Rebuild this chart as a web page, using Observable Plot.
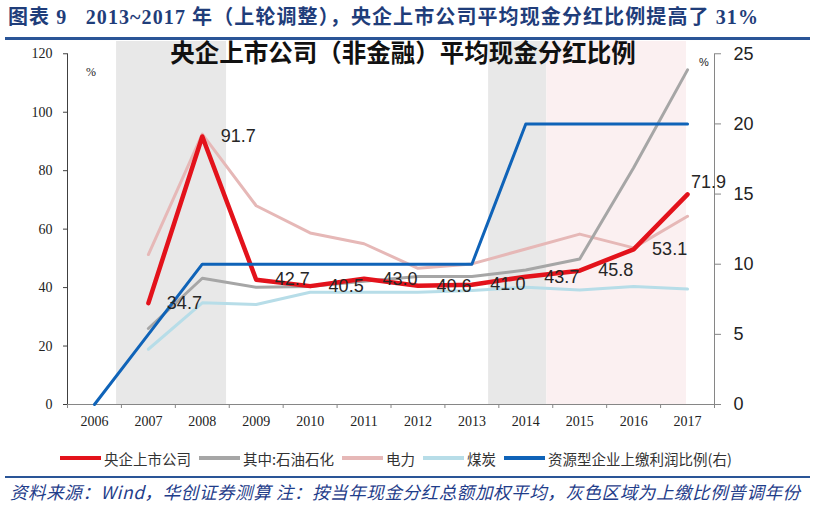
<!DOCTYPE html>
<html><head><meta charset="utf-8">
<script src="https://cdn.jsdelivr.net/npm/d3@7"></script>
<script src="https://cdn.jsdelivr.net/npm/@observablehq/plot@0.6"></script>
<style>
body{margin:0;background:#fff;width:814px;height:508px;position:relative;overflow:hidden;font-family:"Noto Sans CJK SC",sans-serif}
#hdr{position:absolute;left:8px;top:7px;line-height:20px;font-weight:bold;font-size:20px;font-family:"Liberation Serif","Noto Sans CJK SC";color:#1f3d7a;white-space:nowrap;letter-spacing:1.1px}
.rule{position:absolute;left:5px;width:805px;background:#2a5597}
#chart{position:absolute;left:0;top:41px}
#ititle{position:absolute;left:0;width:806px;text-align:center;top:40px;line-height:24px;font-weight:bold;font-size:24.5px;font-family:"Noto Sans CJK SC";color:#111;white-space:nowrap}
.pct{position:absolute;font-size:12px;color:#222}
#legend{position:absolute;left:60px;top:448px;height:20px;display:flex;align-items:center;font-size:14.5px;color:#333;white-space:nowrap}
#legend .it{display:flex;align-items:center;margin-right:8px}
#legend .sw{width:41px;height:4px;margin-right:3px}
#foot{position:absolute;left:10px;top:482px;line-height:20px;font-style:italic;font-size:17.5px;letter-spacing:0.6px;font-family:"Noto Sans CJK SC";color:#1f3d8a;white-space:nowrap}
</style></head>
<body>
<div id="hdr">图表 9&nbsp;&nbsp;&nbsp;2013~2017 年（上轮调整），央企上市公司平均现金分红比例提高了 31%</div>
<div class="rule" style="top:37px;height:3px"></div>
<div id="chart"></div>
<div id="ititle">央企上市公司（非金融）平均现金分红比例</div>
<div class="pct" style="left:86px;top:65px;font-family:'Liberation Serif'">%</div>
<div class="pct" style="left:699px;top:56px;font-family:'Liberation Sans';font-size:11px">%</div>
<div id="legend"></div>
<div class="rule" style="top:476px;height:2px"></div>
<div id="foot">资料来源：Wind，华创证券测算 注：按当年现金分红总额加权平均，灰色区域为上缴比例普调年份</div>
<script>
// ---- data ----
const years = [2006, 2007, 2008, 2009, 2010, 2011, 2012, 2013, 2014, 2015, 2016, 2017];
const centralSOE = [null, 34.7, 91.7, 42.7, 40.5, 43.0, 40.6, 41.0, 43.7, 45.8, 53.1, 71.9]; // 央企上市公司
const petro      = [null, 26.0, 43.2, 40.1, 40.4, 42.2, 43.8, 43.8, 46.0, 49.8, 81.0, 114.5]; // 其中:石油石化
const power      = [null, 51.3, 92.5, 68.0, 58.7, 55.0, 46.6, 48.1, 53.2, 58.3, 53.6, 64.4]; // 电力
const coal       = [null, 18.9, 34.8, 34.2, 38.4, 38.4, 38.4, 39.0, 40.1, 39.2, 40.4, 39.5]; // 煤炭
const profitRate = [0, 5, 10, 10, 10, 10, 10, 10, 20, 20, 20, 20]; // 资源型企业上缴利润比例(右)
const leftTicks = [0, 20, 40, 60, 80, 100, 120];
const rightTicks = [0, 5, 10, 15, 20, 25];
const seriesNames = ["央企上市公司", "其中:石油石化", "电力", "煤炭", "资源型企业上缴利润比例(右)"];
const seriesColors = ["#e3121b", "#a6a6a6", "#e6b8b7", "#b7dde8", "#0f63b8"];
const shadeFrom = [2006.41, 2013.31, 2014.39];
const shadeTo   = [2008.45, 2014.39, 2016.98];
const shadeFill = ["#e8e8e8", "#e8e8e8", "#fbf0f1"];

// ---- build ----
const k = 120 / 25; // right axis -> left axis units
const yTop = 124.2;
const rows = arr => years.map((y, i) => ({year: y, v: arr[i]}));
const shades = shadeFrom.map((f, i) => ({from: f, to: shadeTo[i], fill: shadeFill[i]}));
const bounds = d3.range(years[0] - 0.5, years[years.length - 1] + 1, 1);
const labels = rows(centralSOE).filter(d => d.v != null);

const chart = Plot.plot({
  width: 814, height: 400,
  marginLeft: 67, marginRight: 100, marginTop: 0, marginBottom: 37,
  x: {domain: [years[0] - 0.5, years[years.length - 1] + 0.5], label: null},
  y: {domain: [0, yTop], label: null},
  style: {background: "transparent", overflow: "visible"},
  marks: [
    Plot.rect(shades, {x1: "from", x2: "to", y1: 0, y2: yTop, fill: "fill"}),
    Plot.axisY({ticks: leftTicks, label: null, tickSize: 4, tickPadding: 11, tickFormat: d => String(d),
      fontFamily: "Liberation Serif", fontSize: 14, fill: "#222", stroke: "#404040"}),
    Plot.axisY({anchor: "right", label: null, ticks: rightTicks.map(v => v * k), tickFormat: d => String(Math.round(d / k)),
      tickSize: 6, tickPadding: 13, fontFamily: "Liberation Sans", fontSize: 18, fill: "#222", stroke: "#868686"}),
    Plot.axisX({ticks: years, label: null, tickSize: 0, tickPadding: 12, tickFormat: d => String(d),
      fontFamily: "Liberation Serif", fontSize: 14, fill: "#222"}),
    Plot.axisX({ticks: bounds, label: null, tickSize: 4, tickFormat: () => "", stroke: "#868686"}),
    Plot.ruleY([0], {stroke: "#868686", strokeWidth: 1.2}),
    Plot.ruleX([years[0] - 0.5], {y1: 0, y2: 120, stroke: "#404040"}),
    Plot.ruleX([years[years.length - 1] + 0.5], {y1: 0, y2: 120, stroke: "#868686"}),
    Plot.line(rows(power), {x: "year", y: "v", stroke: seriesColors[2], strokeWidth: 3}),
    Plot.line(rows(coal), {x: "year", y: "v", stroke: seriesColors[3], strokeWidth: 3}),
    Plot.line(rows(petro), {x: "year", y: "v", stroke: seriesColors[1], strokeWidth: 3}),
    Plot.line(rows(centralSOE), {x: "year", y: "v", stroke: seriesColors[0], strokeWidth: 4.5}),
    Plot.line(rows(profitRate), {x: "year", y: d => d.v * k, stroke: seriesColors[4], strokeWidth: 3}),
    Plot.text(labels.filter(d => d.year !== 2017), {x: "year", y: "v", text: d => d.v.toFixed(1), dx: 36,
      fontFamily: "Liberation Sans", fontSize: 18, fill: "#262626"}),
    Plot.text(labels.filter(d => d.year === 2017), {x: "year", y: "v", text: d => d.v.toFixed(1), dx: 21, dy: -12,
      fontFamily: "Liberation Sans", fontSize: 18, fill: "#262626"})
  ]
});
document.getElementById("chart").appendChild(chart);

const lg = document.getElementById("legend");
seriesNames.forEach((n, i) => {
  const it = document.createElement("div"); it.className = "it";
  const sw = document.createElement("div"); sw.className = "sw"; sw.style.background = seriesColors[i];
  const t = document.createElement("span"); t.textContent = n;
  it.appendChild(sw); it.appendChild(t); lg.appendChild(it);
});
</script>
</body></html>
